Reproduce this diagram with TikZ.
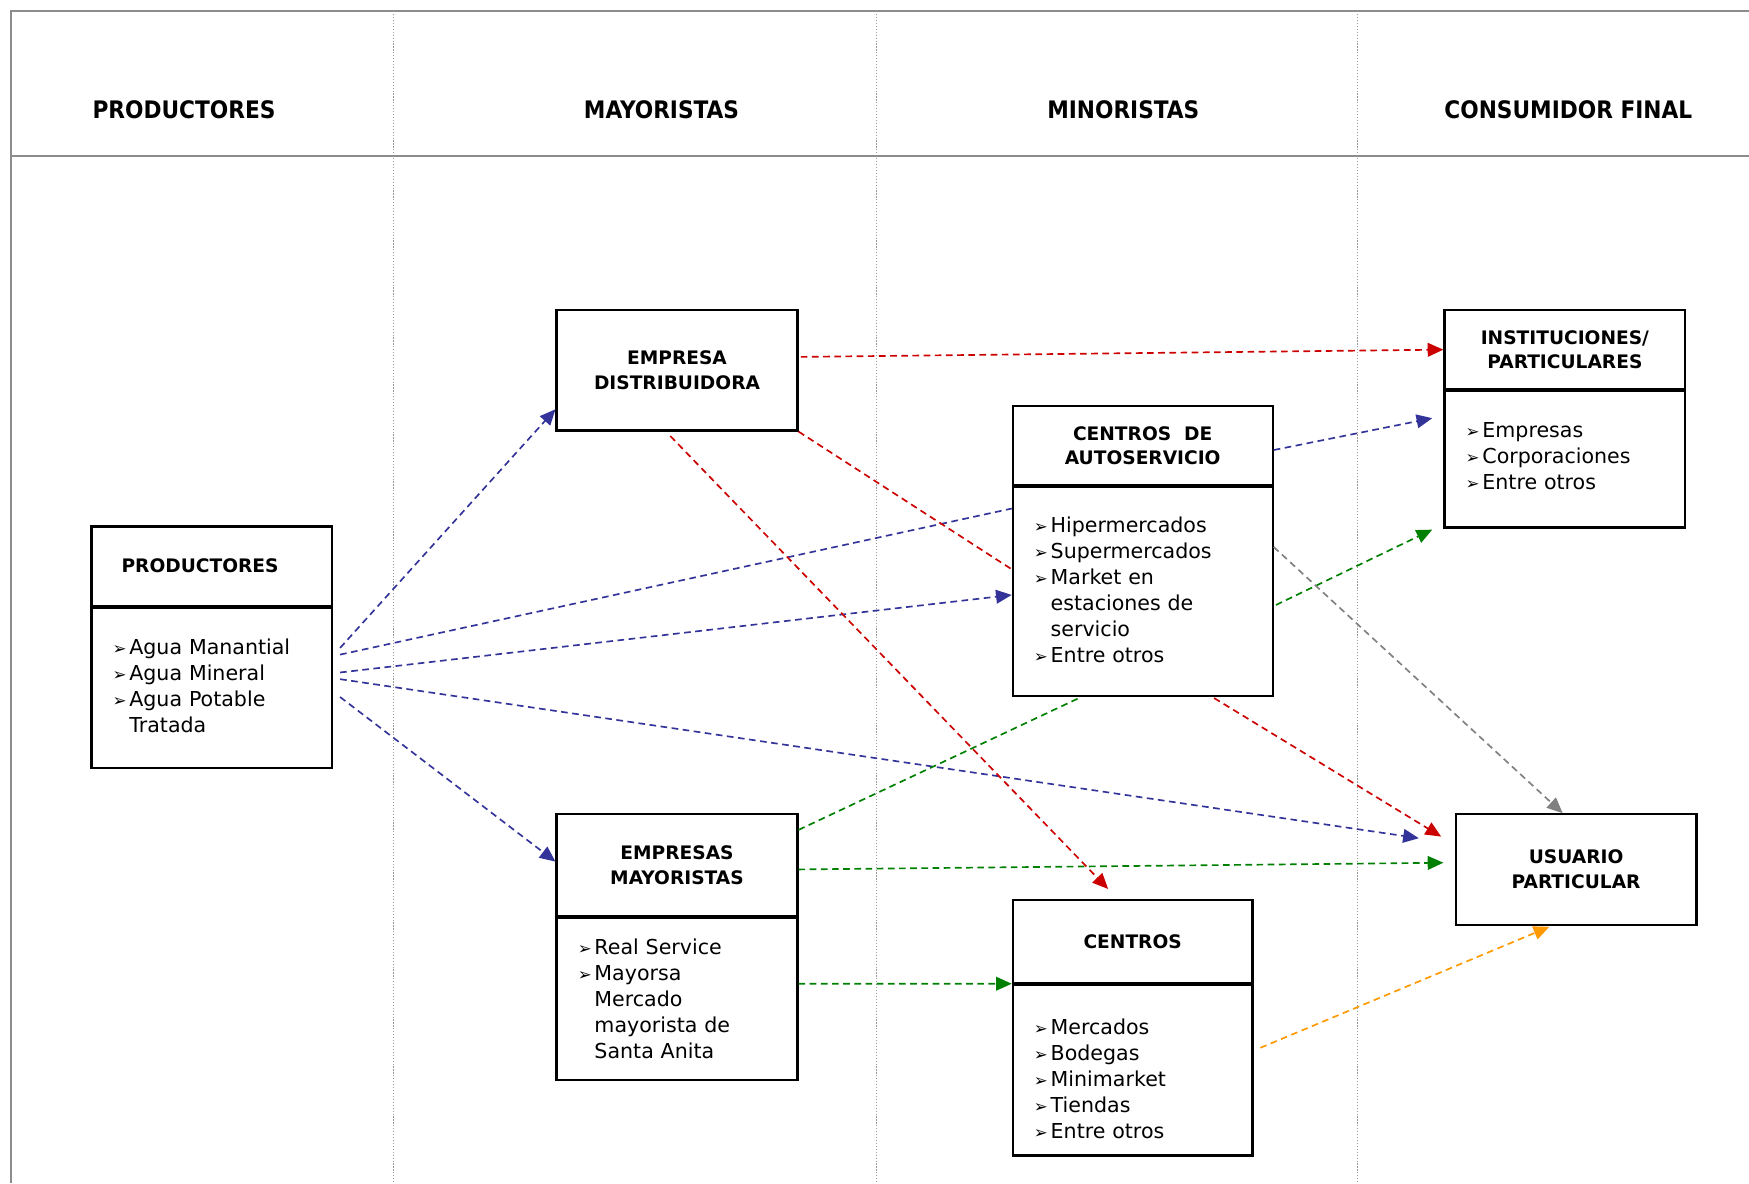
\documentclass[tikz,border=0pt]{standalone}
\usepackage{fontspec}
\setmainfont{DejaVu Sans}
\newfontfamily\headfont{DejaVuSansCondensed-Bold.ttf}
\usepackage{tikz}
\usetikzlibrary{calc, positioning, arrows.meta}
\definecolor{flowBlue}{RGB}{51, 51, 153}
\definecolor{flowRed}{RGB}{204, 0, 0}
\definecolor{flowGreen}{RGB}{0, 128, 0}
\definecolor{flowGray}{RGB}{128, 128, 128}
\definecolor{flowOrange}{RGB}{255, 153, 0}
\newcommand{\itm}{\makebox[0.3cm][l]{\fontsize{8.5}{9}\selectfont ➢}}
\newcommand{\cont}{\hspace*{0.3cm}}

\begin{document}
\begin{tikzpicture}[x=0.02cm, y=-0.02cm, >=Stealth,
  head/.style={font=\headfont\fontsize{12.3}{14}\selectfont},
  frame/.style={line width=1.1pt, black!45},
  sep/.style={line width=0.4pt, gray!80, dash pattern=on 0.6pt off 0.9pt},
  titlebox/.style={draw, line width=1.1pt, align=center, anchor=north west,
    inner sep=2pt, font=\bfseries\fontsize{9.5}{12.5}\selectfont},
  bodybox/.style={draw, line width=1.1pt, align=left, anchor=north,
    inner xsep=0.38cm, inner ysep=2pt, font=\fontsize{10.5}{13.3}\selectfont},
  flow/.style={line width=0.85pt, dash pattern=on 3.4pt off 2.3pt},
  tip/.style={-{Triangle[length=8pt, width=7pt]}}]
  \useasboundingbox (0,0) rectangle (1568,1061);

  % Frame and columns
  \draw[frame] (1568,10) -- (10,10) -- (10,1061);
  \draw[frame] (10,140) -- (1568,140);
  \foreach \x in {353,786,1217}
    \draw[sep] (\x,10) -- (\x,1061);

  \node[head] (hProd) at (165,98) {PRODUCTORES};
  \node[head] (hMay) at (593,98) {MAYORISTAS};
  \node[head] (hMin) at (1007,98) {MINORISTAS};
  \node[head] (hCons) at (1406,98) {CONSUMIDOR FINAL};

  % Boxes
  \node[titlebox, align=left, text width=3.24cm, inner xsep=0.54cm,
    minimum height=1.42cm] (prodT) at (81,471) {PRODUCTORES};
  \node[bodybox, text width=3.56cm, minimum height=2.88cm] (prodB) at (prodT.south)
    {\itm Agua Manantial\\ \itm Agua Mineral\\ \itm Agua Potable\\ \cont Tratada\vspace{2pt}};

  \node[titlebox, minimum width=4.32cm, minimum height=2.16cm] (ed) at (498,277)
    {EMPRESA\\DISTRIBUIDORA};

  \node[titlebox, minimum width=4.32cm, minimum height=1.82cm] (emT) at (498,729)
    {EMPRESAS\\MAYORISTAS};
  \node[bodybox, text width=3.56cm, minimum height=2.9cm] (emB) at (emT.south)
    {\itm Real Service\\ \itm Mayorsa\\ \cont Mercado\\ \cont mayorista de\\ \cont Santa Anita};

  \node[titlebox, minimum width=4.66cm, minimum height=1.42cm] (cdaT) at (907,363)
    {CENTROS~ DE\\AUTOSERVICIO};
  \node[bodybox, text width=3.9cm, minimum height=3.74cm] (cdaB) at (cdaT.south)
    {\itm Hipermercados\\ \itm Supermercados\\ \itm Market en\\ \cont estaciones de\\
     \cont servicio\\ \itm Entre otros\vspace{2pt}};

  \node[titlebox, minimum width=4.3cm, minimum height=1.48cm] (cenT) at (907,806)
    {CENTROS};
  \node[bodybox, text width=3.54cm, minimum height=3.06cm] (cenB) at (cenT.south)
    {\rule{0pt}{16.5pt}\itm Mercados\\ \itm Bodegas\\ \itm Minimarket\\ \itm Tiendas\\ \itm Entre otros};

  \node[titlebox, minimum width=4.32cm, minimum height=1.42cm] (instT) at (1294,277)
    {INSTITUCIONES/\\PARTICULARES};
  \node[bodybox, text width=3.56cm, minimum height=2.44cm] (instB) at (instT.south)
    {\itm Empresas\\ \itm Corporaciones\\ \itm Entre otros\vspace{3pt}};

  \node[titlebox, minimum width=4.32cm, minimum height=1.98cm] (usr) at (1304,729)
    {USUARIO\\PARTICULAR};

  % Blue flows
  \draw[flow, flowBlue, tip] ($(prodB.east)+(6,-36)$) -- ($(ed.south west)+(0,-20)$);
  \draw[flow, flowBlue] ($(prodB.east)+(6,-30)$) -- ($(cdaB.north west)+(0,20)$);
  \draw[flow, flowBlue, tip] ($(prodB.east)+(6,-14)$) -- ($(cdaB.west)+(0,3)$);
  \draw[flow, flowBlue, tip] ($(prodB.east)+(6,-8)$) -- ($(usr.west)+(-32,-28)$);
  \draw[flow, flowBlue, tip] ($(prodB.east)+(6,8)$) -- ($(emT.west)+(0,-3)$);
  \draw[flow, flowBlue, tip] ($(cdaT.east)+(0,4)$) -- ($(instB.north west)+(-10,25)$);

  % Red flows
  \draw[flow, flowRed, tip] ($(ed.east)+(2,-12)$) -- (instT.west);
  \draw[flow, flowRed] (ed.south east) -- ($(cdaB.west)+(0,-20)$);
  \draw[flow, flowRed, tip] ($(ed.south)+(-6,4)$) -- ($(cenT.north)+(-22,-9)$);
  \draw[flow, flowRed, tip] ($(cdaB.south)+(64,1)$) -- ($(usr.north west)+(-12,21)$);

  % Green flows
  \draw[flow, flowGreen] ($(emT.north east)+(0,15)$) -- ($(cdaB.south)+(-55,0)$);
  \draw[flow, flowGreen, tip] ($(emT.east)+(0,4)$) -- ($(usr.west)+(-10,-6)$);
  \draw[flow, flowGreen, tip] ($(emB.north east)+(0,60)$) -- (cenB.north west);
  \draw[flow, flowGreen, tip] ($(cdaB.east)+(2,12)$) -- ($(instB.south west)+(-10,1)$);

  % Gray and orange flows
  \draw[flow, flowGray, tip] ($(cdaB.east)+(0,-40)$) -- ($(usr.north)+(-12,0)$);
  \draw[flow, flowOrange, tip] ($(cenB.east)+(6,-20)$) -- ($(usr.south)+(-24,1)$);
\end{tikzpicture}
\end{document}
